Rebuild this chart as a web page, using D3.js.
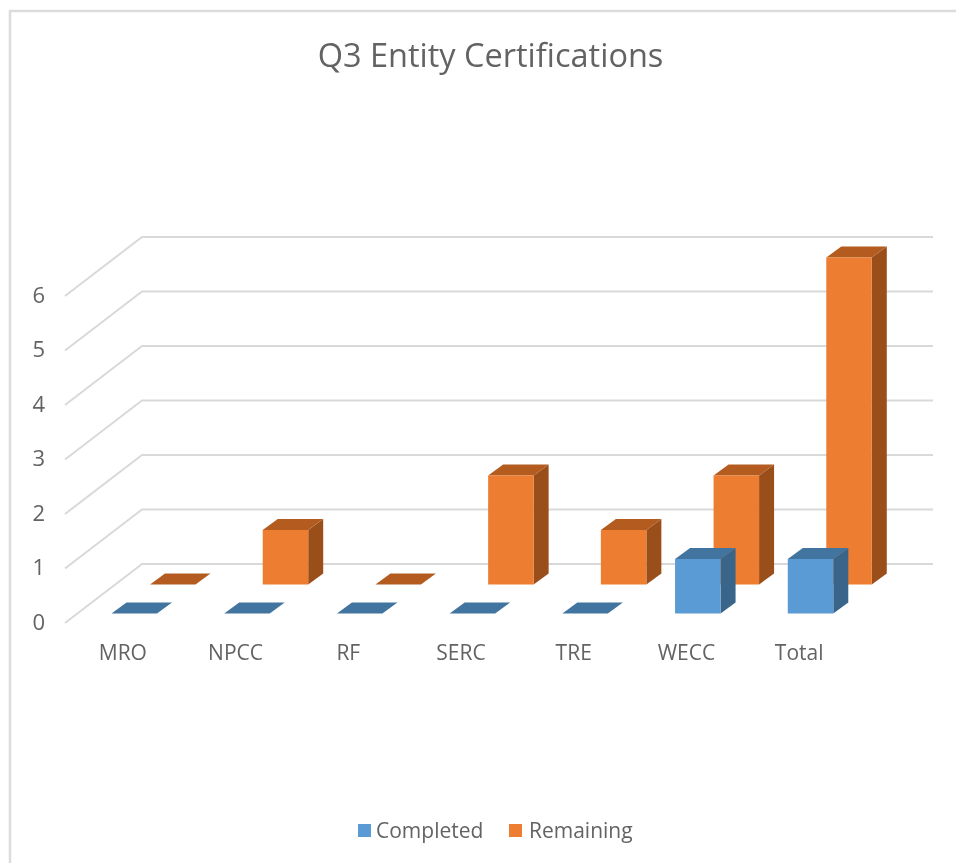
<!DOCTYPE html>
<html lang="en">
<head>
	<meta charset="UTF-8">
	<title>Q3 Entity Certifications</title>
	<script src="https://cdn.jsdelivr.net/npm/d3@7"></script>
	<style>
		html, body {
			margin: 0;
			padding: 0;
			background: #fff;
		}

		svg {
			display: block;
			/* the original is a slightly soft screenshot */
			filter: blur(0.4px);
		}

		svg text {
			font-family: "Open Sans";
			fill: #636363;
		}
	</style>
</head>
<body>
<div id="viz"></div>

<script type="text/javascript">
	const categories = ['MRO', 'NPCC', 'RF', 'SERC', 'TRE', 'WECC', 'Total'];
	const completed = [0, 0, 0, 0, 0, 1, 1];
	const remaining = [0, 1, 0, 2, 1, 2, 6];
	const yTicks = [0, 1, 2, 3, 4, 5, 6];

	const width = 956, height = 863;

	// fake 3d: how far the back wall sits from the front of the floor
	const wallDx = 77, wallDy = -59;
	// depth of a single bar
	const barDx = 15, barDy = -11;
	// orange row stands behind the blue one
	const rowDx = 38.5, rowDy = -29;

	const x = d3.scaleBand()
		.domain(categories)
		.range([111.5, 900.5])
		.paddingInner(0)
		.paddingOuter(0);

	const barWidth = 45.5;

	// y is the front edge of the floor
	const y = d3.scaleLinear()
		.domain([0, 6])
		.range([623, 296]);

	const barBase = 613.5;
	const h = d3.scaleLinear().domain([0, 6]).range([0, 327]);

	const svg = d3.select('#viz')
		.append('svg')
		.attr('width', width)
		.attr('height', height);

	// chart frame, open at the right and bottom
	svg.append('path')
		.attr('d', 'M10,863V11H956')
		.attr('fill', 'none')
		.attr('stroke', '#dcdcdc')
		.attr('stroke-width', 2.5);

	svg.append('text')
		.attr('x', 490.5)
		.attr('y', 67)
		.attr('text-anchor', 'middle')
		.style('font-size', '32.5px')
		.text('Q3 Entity Certifications');

	// gridlines, front edge up to the wall and then across
	svg.append('g')
		.selectAll('path')
		.data(yTicks)
		.join('path')
		.attr('d', d => {
			let py = y(d);
			return 'M65,' + py + 'L' + (65 + wallDx) + ',' + (py + wallDy) + 'H933';
		})
		.attr('fill', 'none')
		.attr('stroke', '#d9d9d9')
		.attr('stroke-width', 2);

	let yAxis = d3.axisLeft(y)
		.tickValues(yTicks)
		.tickFormat(d3.format('d'))
		.tickSize(0)
		.tickPadding(0);

	let gy = svg.append('g')
		.attr('transform', 'translate(45,-1)')
		.call(yAxis);
	gy.select('.domain').remove();
	gy.selectAll('text').style('font-size', '22px');

	let xAxis = d3.axisBottom(x)
		.tickSize(0)
		.tickPadding(0);

	let gx = svg.append('g')
		.attr('transform', 'translate(-45,645)')
		.call(xAxis);
	gx.select('.domain').remove();
	gx.selectAll('text').style('font-size', '21px');

	function drawSeries(values, offX, offY, front, side, top) {
		let g = svg.append('g');

		// left to right so nearer faces land on top
		let bars = g.selectAll('g')
			.data(values.map((v, i) => ({cat: categories[i], v: v})))
			.join('g')
			.attr('transform', d => 'translate(' + (x(d.cat) + offX) + ',' + (barBase + offY) + ')');

		bars.append('path')
			.attr('fill', side)
			.attr('d', d => {
				let t = h(d.v);
				return 'M' + barWidth + ',0V' + (-t) + 'l' + barDx + ',' + barDy + 'V' + barDy + 'Z';
			});

		bars.append('path')
			.attr('fill', top)
			.attr('d', d => {
				let t = h(d.v);
				return 'M0,' + (-t) + 'h' + barWidth + 'l' + barDx + ',' + barDy + 'h' + (-barWidth) + 'Z';
			});

		bars.append('rect')
			.attr('y', d => -h(d.v))
			.attr('width', barWidth)
			.attr('height', d => h(d.v))
			.attr('fill', front);
	}

	drawSeries(remaining, rowDx, rowDy, '#ed7d31', '#9a4f1b', '#b45c20');
	drawSeries(completed, 0, 0, '#5b9bd5', '#386589', '#4274a0');

	// legend
	let legend = svg.append('g');
	let names = ['Completed', 'Remaining'];
	let colors = ['#5b9bd5', '#ed7d31'];
	let legendX = [358, 509];
	let legendTextX = [376, 529];

	names.forEach((n, i) => {
		legend.append('rect')
			.attr('x', legendX[i])
			.attr('y', 824)
			.attr('width', 13)
			.attr('height', 13)
			.attr('fill', colors[i]);
		legend.append('text')
			.attr('x', legendTextX[i])
			.attr('y', 838)
			.style('font-size', '21px')
			.text(n);
	});
</script>
</body>
</html>
